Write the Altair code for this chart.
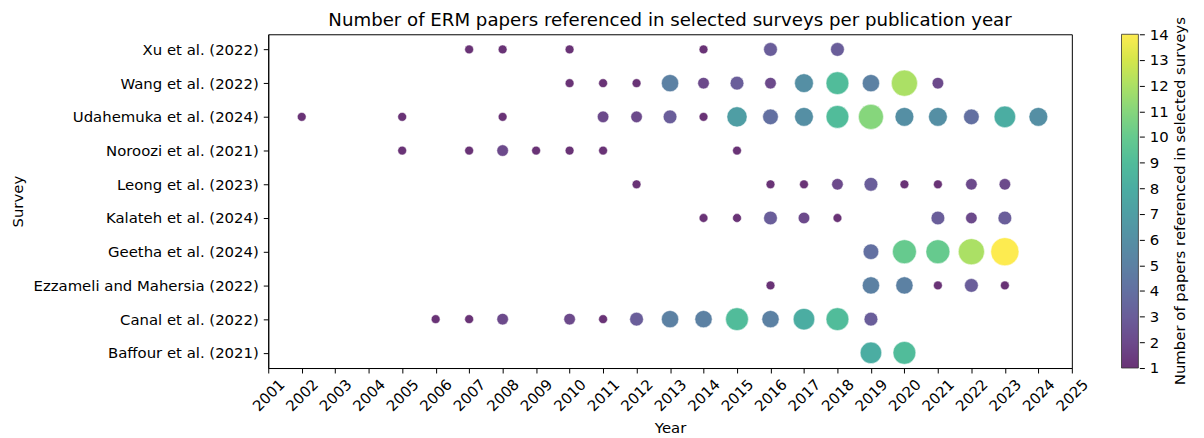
import altair as alt
import pandas as pd

surveys = [
    "Xu et al. (2022)",
    "Wang et al. (2022)",
    "Udahemuka et al. (2024)",
    "Noroozi et al. (2021)",
    "Leong et al. (2023)",
    "Kalateh et al. (2024)",
    "Geetha et al. (2024)",
    "Ezzameli and Mahersia (2022)",
    "Canal et al. (2022)",
    "Baffour et al. (2021)",
]

xu_years = [2007, 2008, 2010, 2014, 2016, 2018]
xu_counts = [1, 1, 1, 1, 3, 3]

wang_years = [2010, 2011, 2012, 2013, 2014, 2015, 2016, 2017, 2018, 2019, 2020, 2021]
wang_counts = [1, 1, 1, 5, 2, 3, 2, 6, 9, 5, 12, 2]

uda_years = [2002, 2005, 2008, 2011, 2012, 2013, 2014, 2015, 2016, 2017, 2018, 2019,
             2020, 2021, 2022, 2023, 2024]
uda_counts = [1, 1, 1, 2, 2, 3, 1, 7, 4, 6, 9, 11, 6, 6, 4, 8, 6]

noroozi_years = [2005, 2007, 2008, 2009, 2010, 2011, 2015]
noroozi_counts = [1, 1, 2, 1, 1, 1, 1]

leong_years = [2012, 2016, 2017, 2018, 2019, 2020, 2021, 2022, 2023]
leong_counts = [1, 1, 1, 2, 3, 1, 1, 2, 2]

kalateh_years = [2014, 2015, 2016, 2017, 2018, 2021, 2022, 2023]
kalateh_counts = [1, 1, 3, 2, 1, 3, 2, 3]

geetha_years = [2019, 2020, 2021, 2022, 2023]
geetha_counts = [4, 10, 10, 12, 14]

ezz_years = [2016, 2019, 2020, 2021, 2022, 2023]
ezz_counts = [1, 5, 5, 1, 3, 1]

canal_years = [2006, 2007, 2008, 2010, 2011, 2012, 2013, 2014, 2015, 2016, 2017, 2018, 2019]
canal_counts = [1, 1, 2, 2, 1, 3, 5, 5, 9, 5, 8, 9, 3]

baffour_years = [2019, 2020]
baffour_counts = [8, 9]

year_ticks = list(range(2001, 2026))
color_ticks = list(range(1, 15))
chart_title = ["Number of ERM papers referenced in selected surveys per publication year"]
colorbar_title = ["Number of papers referenced in selected surveys"]

series = [
    (xu_years, xu_counts),
    (wang_years, wang_counts),
    (uda_years, uda_counts),
    (noroozi_years, noroozi_counts),
    (leong_years, leong_counts),
    (kalateh_years, kalateh_counts),
    (geetha_years, geetha_counts),
    (ezz_years, ezz_counts),
    (canal_years, canal_counts),
    (baffour_years, baffour_counts),
]

rows = []
for name, (ys, cs) in zip(surveys, series):
    for y, c in zip(ys, cs):
        rows.append({"Survey": name, "Year": y, "Count": c, "Papers": c})
df = pd.DataFrame(rows)

FONT = "DejaVu Sans"
FS = 15

points = alt.Chart(df).mark_circle(
    opacity=0.8, stroke="white", strokeWidth=0.5
).encode(
    x=alt.X(
        "Year:Q",
        scale=alt.Scale(domain=[2001, 2025], nice=False, zero=False),
        axis=alt.Axis(
            values=year_ticks, format="d", labelAngle=-45, labelAlign="center",
            labelBaseline="middle", labelPadding=22, title="Year", grid=False,
            titleY=65, titleBaseline="alphabetic", tickSize=5,
            labelFlush=False, labelOverlap=False,
        ),
    ),
    y=alt.Y(
        "Survey:N",
        sort=surveys,
        scale=alt.Scale(padding=0.45),
        axis=alt.Axis(title="Survey", grid=False, tickSize=5, labelPadding=5, labelLimit=400,
                      titleX=-252, titleY=168, titleAlign="center", titleBaseline="middle"),
    ),
    size=alt.Size("Papers:Q", scale=alt.Scale(domain=[-0.41, 14], range=[0, 804], zero=False, nice=False),
                  legend=None),
    color=alt.Color(
        "Count:Q",
        scale=alt.Scale(scheme="viridis", domain=[1, 14]),
        legend=alt.Legend(
            type="gradient", title=None,
            orient="none", legendX=859, legendY=0, direction="vertical",
            gradientLength=336, gradientThickness=17, values=color_ticks,
            labelOpacity=0, labelExpr="''", gradientStrokeColor="black",
            gradientStrokeWidth=0.8, gradientOpacity=0.8,
        ),
    ),
)

# colorbar tick marks and labels, on an axis set beside the gradient
cbar_axis = alt.Chart(pd.DataFrame({"v": color_ticks})).mark_point(opacity=0).encode(
    x=alt.value(0),
    y=alt.Y(
        "v:Q",
        scale=alt.Scale(domain=[1, 14], nice=False, zero=False),
        axis=alt.Axis(orient="right", offset=68, values=color_ticks, format="d",
                      grid=False, domain=False, title=None, tickSize=5, labelPadding=5,
                      labelFlush=False, labelBaseline="middle", labelOverlap=False),
    ),
)

main_title = alt.Chart(pd.DataFrame({"t": chart_title})).mark_text(
    align="center", baseline="alphabetic", font=FONT, fontSize=18.3, color="black"
).encode(
    text="t:N",
    x=alt.value(404.5),
    y=alt.value(-8),
)

cbar_title = alt.Chart(pd.DataFrame({"t": colorbar_title})).mark_text(
    angle=270, align="center", baseline="middle", font=FONT, fontSize=FS, color="black"
).encode(
    text="t:N",
    x=alt.value(918),
    y=alt.value(168),
)

chart = alt.layer(points, cbar_axis, main_title, cbar_title).resolve_scale(
    y="independent"
).properties(
    width=809,
    height=336,
    autosize=alt.AutoSizeParams(type="none"),
    padding={"left": 262, "top": 25, "right": 125, "bottom": 69},
).configure_view(
    stroke="black", strokeWidth=1
).configure_axis(
    labelFont=FONT, titleFont=FONT, labelFontSize=FS, titleFontSize=FS,
    labelColor="black", titleColor="black", titleFontWeight="normal",
    domainColor="black", tickColor="black",
).configure_legend(
    labelFont=FONT, titleFont=FONT, labelFontSize=FS, titleFontSize=FS,
    labelColor="black", titleColor="black", titleFontWeight="normal",
)

chart.save("out.html", embed_options={"renderer": "svg", "actions": False})
